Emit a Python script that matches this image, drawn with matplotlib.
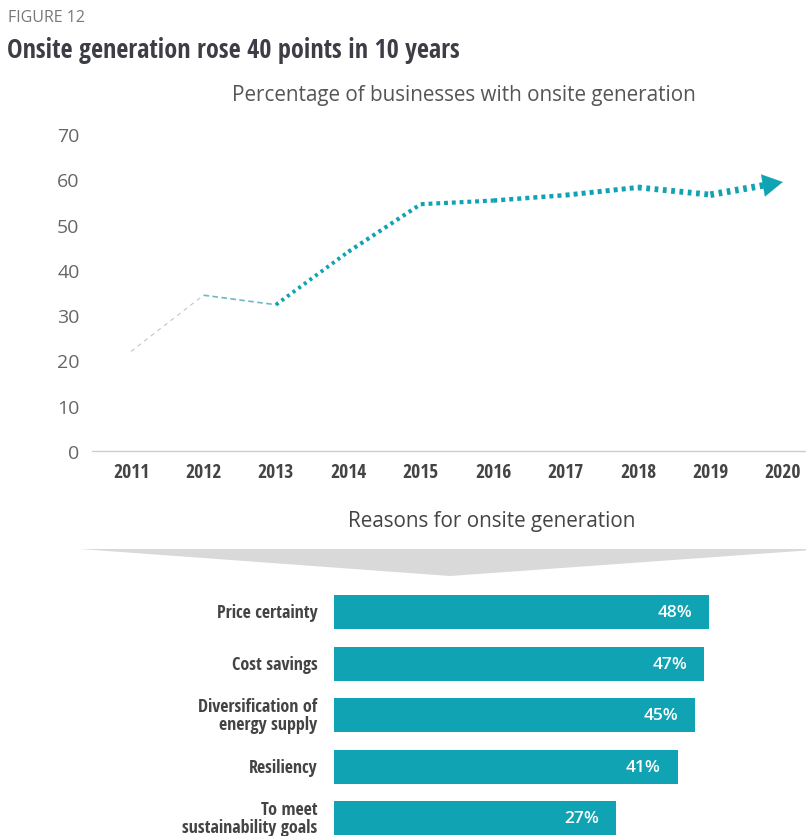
import matplotlib
matplotlib.use("Agg")
import matplotlib.pyplot as plt
from matplotlib.patches import Polygon
from matplotlib import font_manager

# ---- data ----
years = [2011, 2012, 2013, 2014, 2015, 2016, 2017, 2018, 2019, 2020]
share_onsite = [22.0, 34.4, 32.3, 44.0, 54.5, 55.3, 56.5, 58.2, 56.6, 59.4]

reasons = ["Price certainty", "Cost savings", "Diversification of\nenergy supply",
           "Resiliency", "To meet\nsustainability goals"]
reason_pct = [48, 47, 45, 41, 27]

yticks = [0, 10, 20, 30, 40, 50, 60, 70]

# ---- styling ----
TEAL = "#10a3b4"
DARK = "#3d3d45"
GRAY = "#666666"

# pick a condensed face if one is installed
faces = font_manager.fontManager.ttflist
cond_family, cond_stretch = "Roboto", "normal"
for want in ["Open Sans", "Roboto", "Liberation Sans", "DejaVu Sans", "Noto Sans"]:
    hit = [f for f in faces if f.name.startswith(want)
           and ("condensed" in str(f.stretch).lower() or "Condensed" in f.name
                or "Narrow" in f.name)]
    if hit:
        cond_family, cond_stretch = hit[0].name, hit[0].stretch
        break
COND = [cond_family, "DejaVu Sans"]
REG = ["Open Sans", "DejaVu Sans"]

plt.rcParams["lines.scale_dashes"] = False

W, H = 806, 837
fig = plt.figure(figsize=(W / 100, H / 100), dpi=100)


def fx(px):
    return px / W


def fy(py):
    return 1 - py / H


# ---- headings ----
fig.text(fx(8), fy(18), "FIGURE 12", family=REG, fontsize=11.5, color="#777777",
         va="center", ha="left")
fig.text(fx(7), fy(50), "Onsite generation rose 40 points in 10 years", family=COND,
         stretch=cond_stretch, fontsize=18.8, fontweight="bold", color=DARK,
         va="center", ha="left")
fig.text(fx(464), fy(96), "Percentage of businesses with onsite generation",
         family=REG, fontsize=14.9, color="#555555", va="center", ha="center")

# ---- line chart ----
ax = fig.add_axes([fx(92), fy(452), fx(806) - fx(92), fy(135) - fy(452)])
ax.set_xlim(2010.46, 2020.32)
ax.set_ylim(0, 70)
for s in ["top", "right", "left"]:
    ax.spines[s].set_visible(False)
ax.spines["bottom"].set_color("#cccccc")
ax.spines["bottom"].set_linewidth(1.0)
ax.set_yticks(yticks)
ax.set_yticklabels([str(t) for t in yticks], family=REG, fontsize=14, color=GRAY)
ax.set_xticks(years)
ax.set_xticklabels([str(y) for y in years], family=COND, stretch=cond_stretch,
                   fontsize=14, fontweight="bold", color="#444444")
ax.tick_params(axis="both", length=0)
ax.tick_params(axis="y", pad=9)
ax.tick_params(axis="x", pad=8)

# segment styles: the line grows bolder and denser over time
seg_lw = [0.8, 1.2, 2.8, 3.0, 3.0, 3.2, 3.6, 4.2, 4.8]
seg_color = ["#b9c9cc", "#6db8c3", TEAL, TEAL, TEAL, TEAL, TEAL, TEAL, TEAL]
seg_dash = [(3, 3), (4, 2.5), (2.2, 2.8), (2.4, 2.8), (2.8, 2.8), (2.9, 2.9),
            (2.9, 2.9), (2.7, 3.3), (2.6, 3.4)]
for i in range(len(years) - 1):
    x0, x1 = years[i], years[i + 1]
    y0, y1 = share_onsite[i], share_onsite[i + 1]
    if i == len(years) - 2:
        # stop short of the final point so the arrow head sits on it
        t = 0.78
        x1, y1 = x0 + (x1 - x0) * t, y0 + (y1 - y0) * t
    ax.plot([x0, x1], [y0, y1], color=seg_color[i], lw=seg_lw[i],
            dashes=seg_dash[i], dash_capstyle="butt", solid_capstyle="butt")

ax.annotate("", xy=(years[-1], share_onsite[-1]),
            xytext=(years[-2] + 0.75, share_onsite[-2] + 0.75 * (share_onsite[-1] - share_onsite[-2])),
            arrowprops=dict(arrowstyle="-|>,head_length=0.8,head_width=0.45",
                            color=TEAL, lw=0.1, mutation_scale=18,
                            shrinkA=0, shrinkB=0))

# ---- section header and funnel ----
fig.text(fx(492), fy(522), "Reasons for onsite generation", family=REG, fontsize=14.9,
         color="#444444", va="center", ha="center")
funnel = Polygon([(fx(80), fy(550)), (fx(806), fy(550)), (fx(806), fy(551.5)),
                  (fx(450), fy(577))], closed=True, transform=fig.transFigure,
                 facecolor="#d9d9d9", edgecolor="none")
fig.patches.append(funnel)

# ---- bar chart ----
# value axis: 4.43 px per percentage point, bars begin at a fixed origin
bx = fig.add_axes([fx(334), 0, fx(806) - fx(334), fy(589)])
px_per_pct = 4.43
bar_origin = -162 / px_per_pct
bx.set_xlim(bar_origin, bar_origin + (806 - 334) / px_per_pct)
bx.set_ylim(4.35, -0.47)
pos = list(range(len(reasons)))
bx.barh(pos, [v - bar_origin for v in reason_pct], left=bar_origin, height=0.66,
        color=TEAL)
bx.axis("off")
for p, v, name in zip(pos, reason_pct, reasons):
    bx.annotate(f"{v}%", xy=(v, p), xytext=(-12, 0), textcoords="offset points",
                ha="right", va="center", family=REG, fontsize=12.5,
                fontweight="semibold", color="white")
    bx.annotate(name, xy=(bar_origin, p), xytext=(-12, 0), textcoords="offset points",
                ha="right", va="center", family=COND, stretch=cond_stretch,
                fontsize=13, fontweight="bold", color="#444444", linespacing=1.05,
                annotation_clip=False)

fig.savefig("out.png", dpi=100)
